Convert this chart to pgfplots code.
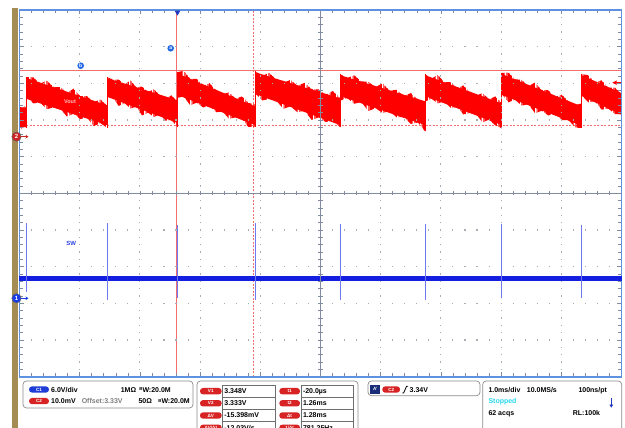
\documentclass[border=0pt]{standalone}
\usepackage{pgfplots}
\pgfplotsset{compat=1.18}
\usepackage{fontspec}
\setmainfont{Liberation Sans}
\usetikzlibrary{arrows.meta,patterns.meta}
\definecolor{frameblue}{RGB}{95,145,225}
\definecolor{tickgray}{RGB}{130,140,160}
\definecolor{dotgray}{RGB}{170,172,182}
\definecolor{cursred}{RGB}{242,110,110}
\definecolor{trace2}{RGB}{255,0,0}
\definecolor{trace1}{RGB}{20,30,225}
\definecolor{spikeblue}{RGB}{110,120,240}
\definecolor{brownstrip}{RGB}{165,140,85}
\definecolor{pillred}{RGB}{215,35,35}
\definecolor{pillblue}{RGB}{30,60,215}
\definecolor{navy}{RGB}{25,45,120}
\definecolor{trigblue}{RGB}{30,55,190}
\definecolor{stopcyan}{RGB}{40,215,240}
\definecolor{boxgray}{RGB}{140,140,140}
\definecolor{cellgray}{RGB}{110,110,110}
\definecolor{mkred}{RGB}{205,35,35}
\definecolor{mkblue}{RGB}{25,60,230}
\definecolor{abblue}{RGB}{35,105,230}
\definecolor{swblue}{RGB}{50,70,225}
\begin{document}
\begin{tikzpicture}
\path[use as bounding box] (0,0) rectangle (625pt,428pt);
\fill[white] (0,0) rectangle (625pt,428pt);
\begin{scope}[x=1pt,y=-1pt,yshift=428pt]
\fill[brownstrip] (12,8) rectangle (18,428);
\end{scope}

% ---------- Channel 2 (Vout) axis, y in volts (10 mV/div, offset 3.33 V) ----------
\begin{axis}[
  at={(19.5pt,51.3pt)}, anchor=south west,
  width=602pt, height=366.7pt, scale only axis,
  xmin=-2.62, xmax=7.38, ymin=3.26457, ymax=3.36457,
  xtick={-2.62,-1.62,-0.62,0.38,1.38,2.38,3.38,4.38,5.38,6.38,7.38},
  ytick={3.26457,3.27457,3.28457,3.29457,3.30457,3.31457,3.32457,3.33457,3.34457,3.35457,3.36457},
  xticklabels={}, yticklabels={},
  minor x tick num=4, minor y tick num=4,
  tick align=inside, major tick length=4.5pt, minor tick length=3.2pt,
  tick style={tickgray, line width=0.6pt},
  grid=major,
  major x grid style={dotgray, line width=1.1pt, dash pattern=on 1.1pt off 6.233pt, dash phase=0.55pt},
  major y grid style={dotgray, line width=1.1pt, dash pattern=on 1.1pt off 10.94pt, dash phase=0.55pt},
  axis line style={frameblue, line width=1.8pt},
  axis on top, clip=false,
]
% cursors
\addplot[cursred, line width=0.8pt] coordinates {(-0.02,3.26457) (-0.02,3.36457)};
\addplot[cursred, line width=0.8pt, dash pattern=on 2pt off 1.5pt] coordinates {(1.26,3.26457) (1.26,3.36457)};
\addplot[cursred, line width=0.8pt] coordinates {(-2.62,3.348) (7.38,3.348)};
\addplot[cursred, line width=0.8pt, dash pattern=on 2pt off 1.5pt] coordinates {(-2.62,3.333) (7.38,3.333)};
% Vout ripple: noisy outer envelope (fringe) of each ramp
\pgfplotsset{fringe/.style={draw=none, pattern={Lines[angle=90,distance=1.15pt,line width=0.75pt]}, pattern color=trace2},
             core/.style={fill=trace2, draw=none},
             jump/.style={trace2, line width=0.7pt}}
\addplot[fringe] coordinates {(-2.62,3.3381) (-2.58,3.3373) (-2.54,3.3384) (-2.50,3.3376) (-2.50,3.3324) (-2.54,3.3329) (-2.58,3.3321) (-2.62,3.3327)};
\addplot[fringe] coordinates {(-2.500,3.3324)
 (-2.500,3.3463) (-2.389,3.3462) (-2.278,3.3445) (-2.166,3.3453) (-2.055,3.3436) (-1.944,3.3435) (-1.833,3.3420) (-1.722,3.3431) (-1.611,3.3411) (-1.500,3.3411) (-1.388,3.3394) (-1.277,3.3402) (-1.166,3.3385)
 (-1.166,3.3325) (-1.277,3.3337) (-1.388,3.3329) (-1.500,3.3353) (-1.611,3.3348) (-1.722,3.3363) (-1.833,3.3355) (-1.944,3.3377) (-2.055,3.3380) (-2.166,3.3375) (-2.278,3.3394) (-2.389,3.3391) (-2.500,3.3408)};
\addplot[fringe] coordinates {(-1.166,3.3325)
 (-1.166,3.3463) (-1.069,3.3456) (-0.972,3.3456) (-0.874,3.3442) (-0.777,3.3454) (-0.680,3.3435) (-0.583,3.3437) (-0.486,3.3421) (-0.389,3.3430) (-0.291,3.3414) (-0.194,3.3405) (-0.097,3.3413) (0.000,3.3398)
 (0.000,3.3327) (-0.097,3.3346) (-0.194,3.3344) (-0.291,3.3361) (-0.389,3.3354) (-0.486,3.3366) (-0.583,3.3358) (-0.680,3.3382) (-0.777,3.3377) (-0.874,3.3392) (-0.972,3.3384) (-1.069,3.3406) (-1.166,3.3409)};
\addplot[fringe] coordinates {(0.000,3.3327)
 (0.000,3.3476) (0.108,3.3480) (0.215,3.3458) (0.323,3.3458) (0.431,3.3439) (0.538,3.3446) (0.646,3.3427) (0.754,3.3416) (0.861,3.3421) (0.969,3.3404) (1.077,3.3410) (1.184,3.3392) (1.292,3.3389)
 (1.292,3.3327) (1.184,3.3326) (1.077,3.3349) (0.969,3.3353) (0.861,3.3349) (0.754,3.3369) (0.646,3.3367) (0.538,3.3385) (0.431,3.3380) (0.323,3.3393) (0.215,3.3386) (0.108,3.3410) (0.000,3.3406)};
\addplot[fringe] coordinates {(1.292,3.3327)
 (1.292,3.3479) (1.410,3.3466) (1.527,3.3474) (1.645,3.3457) (1.763,3.3447) (1.880,3.3455) (1.998,3.3439) (2.116,3.3447) (2.233,3.3430) (2.351,3.3429) (2.469,3.3414) (2.586,3.3425) (2.704,3.3405)
 (2.704,3.3326) (2.586,3.3345) (2.469,3.3340) (2.351,3.3353) (2.233,3.3346) (2.116,3.3371) (1.998,3.3367) (1.880,3.3383) (1.763,3.3376) (1.645,3.3399) (1.527,3.3403) (1.410,3.3399) (1.292,3.3419)};
\addplot[fringe] coordinates {(2.704,3.3326)
 (2.704,3.3471) (2.822,3.3460) (2.939,3.3468) (3.057,3.3451) (3.175,3.3450) (3.292,3.3435) (3.410,3.3446) (3.528,3.3426) (3.645,3.3428) (3.763,3.3411) (3.881,3.3419) (3.998,3.3402) (4.116,3.3392)
 (4.116,3.3315) (3.998,3.3339) (3.881,3.3335) (3.763,3.3354) (3.645,3.3353) (3.528,3.3370) (3.410,3.3365) (3.292,3.3378) (3.175,3.3370) (3.057,3.3395) (2.939,3.3390) (2.822,3.3406) (2.704,3.3398)};
\addplot[fringe] coordinates {(4.116,3.3315)
 (4.116,3.3471) (4.222,3.3458) (4.328,3.3469) (4.435,3.3449) (4.541,3.3449) (4.647,3.3432) (4.753,3.3440) (4.859,3.3422) (4.965,3.3412) (5.072,3.3419) (5.178,3.3402) (5.284,3.3410) (5.390,3.3392)
 (5.390,3.3323) (5.284,3.3331) (5.178,3.3347) (5.072,3.3339) (4.965,3.3362) (4.859,3.3365) (4.753,3.3361) (4.647,3.3381) (4.541,3.3379) (4.435,3.3397) (4.328,3.3391) (4.222,3.3404) (4.116,3.3396)};
\addplot[fringe] coordinates {(5.390,3.3323)
 (5.390,3.3474) (5.501,3.3475) (5.611,3.3457) (5.722,3.3455) (5.833,3.3438) (5.944,3.3448) (6.055,3.3427) (6.165,3.3427) (6.276,3.3408) (6.387,3.3415) (6.498,3.3397) (6.608,3.3386) (6.719,3.3391)
 (6.719,3.3323) (6.608,3.3326) (6.498,3.3346) (6.387,3.3345) (6.276,3.3363) (6.165,3.3358) (6.055,3.3371) (5.944,3.3364) (5.833,3.3389) (5.722,3.3385) (5.611,3.3401) (5.501,3.3394) (5.390,3.3417)};
\addplot[fringe] coordinates {(6.719,3.3323)
 (6.719,3.3471) (6.829,3.3468) (6.939,3.3448) (7.050,3.3454) (7.160,3.3434) (7.270,3.3434) (7.380,3.3417)
 (7.380,3.3361) (7.270,3.3362) (7.160,3.3377) (7.050,3.3374) (6.939,3.3397) (6.829,3.3394) (6.719,3.3413)};
% Vout ripple: dense core of each ramp
\addplot[core] coordinates {(-2.62,3.3381) (-2.50,3.3379) (-2.50,3.3326) (-2.62,3.3327)};
\addplot[core] coordinates {(-2.500,3.3460) (-1.166,3.3386) (-1.166,3.3332) (-2.500,3.3403)};
\addplot[core] coordinates {(-1.166,3.3460) (0.000,3.3400) (0.000,3.3338) (-1.166,3.3409)};
\addplot[core] coordinates {(0.000,3.3473) (1.292,3.3383) (1.292,3.3332) (0.000,3.3414)};
\addplot[core] coordinates {(1.292,3.3476) (2.704,3.3405) (2.704,3.3332) (1.292,3.3417)};
\addplot[core] coordinates {(2.704,3.3468) (4.116,3.3397) (4.116,3.3332) (2.704,3.3411)};
\addplot[core] coordinates {(4.116,3.3468) (5.390,3.3391) (5.390,3.3332) (4.116,3.3411)};
\addplot[core] coordinates {(5.390,3.3471) (6.719,3.3383) (6.719,3.3330) (5.390,3.3414)};
\addplot[core] coordinates {(6.719,3.3468) (7.380,3.3419) (7.380,3.3360) (6.719,3.3411)};
% rising edges
\addplot[jump] coordinates {(-2.500,3.3324) (-2.500,3.3463)};
\addplot[jump] coordinates {(-1.166,3.3325) (-1.166,3.3463)};
\addplot[jump] coordinates {(0.000,3.3327) (0.000,3.3476)};
\addplot[jump] coordinates {(1.292,3.3327) (1.292,3.3479)};
\addplot[jump] coordinates {(2.704,3.3326) (2.704,3.3471)};
\addplot[jump] coordinates {(4.116,3.3315) (4.116,3.3471)};
\addplot[jump] coordinates {(5.390,3.3323) (5.390,3.3474)};
\addplot[jump] coordinates {(6.719,3.3323) (6.719,3.3471)};
\node[text=red!28!white, font=\fontsize{5.5}{6}\selectfont\bfseries, inner sep=0pt] at (axis cs:-1.781,3.3395) {Vout};
\end{axis}

% ---------- Channel 1 (SW) axis, y in volts, 6 V/div ----------
\begin{axis}[
  at={(19.5pt,51.3pt)}, anchor=south west,
  width=602pt, height=366.7pt, scale only axis,
  xmin=-2.62, xmax=7.38, ymin=-12.822, ymax=47.178,
  hide axis, clip=false,
]
\addplot[trace1, line width=4.3pt] coordinates {(-2.62,3.24) (7.38,3.24)};
\pgfplotsset{spk/.style={spikeblue, line width=0.9pt}}
\addplot[spk] coordinates {(-2.500,12.27) (-2.500,1.0)};
\addplot[spk] coordinates {(-1.166,12.27) (-1.166,-0.28)};
\addplot[spk] coordinates {(0.008,11.99) (0.008,0.0)};
\addplot[spk] coordinates {(1.292,12.27) (1.292,-0.28)};
\addplot[spk] coordinates {(2.704,12.20) (2.704,-0.28)};
\addplot[spk] coordinates {(4.116,12.20) (4.116,-0.28)};
\addplot[spk] coordinates {(5.390,12.10) (5.390,0.0)};
\addplot[spk] coordinates {(6.719,11.99) (6.719,0.0)};
\end{axis}

\begin{scope}[x=1pt,y=-1pt,yshift=428pt]
% centre cross with ticks
\draw[tickgray, line width=0.8pt] (19.5,193.35) -- (621.5,193.35);
\draw[tickgray, line width=0.8pt] (320.5,10) -- (320.5,376.7);
\foreach \i in {1,...,49} \draw[tickgray, line width=0.6pt] ({19.5+\i*12.04},191.2) -- ({19.5+\i*12.04},195.5);
\foreach \j in {1,...,49} \draw[tickgray, line width=0.6pt] (318.2,{10+\j*7.334}) -- (322.8,{10+\j*7.334});
% trigger position marker
\fill[trigblue] (174.6,10.6) -- (180.4,10.6) -- (177.5,15.6) -- cycle;
% cursor labels
\fill[abblue] (170.7,48.3) circle (3.3pt);
\node[text=white, font=\fontsize{5}{5}\selectfont\bfseries, inner sep=0pt] at (170.7,48.1) {a};
\fill[abblue] (80.7,65.7) circle (3.3pt);
\node[text=white, font=\fontsize{5}{5}\selectfont\bfseries, inner sep=0pt] at (80.7,65.5) {b};
\node[text=swblue, font=\fontsize{6}{6}\selectfont\bfseries, inner sep=0pt] at (71.3,243.3) {SW};
% trigger level arrow
\draw[red, line width=0.8pt] (615.5,82.7) -- (621,82.7);
\fill[red] (612.3,82.7) -- (616.5,80.5) -- (616.5,84.9) -- cycle;
% channel reference markers
\draw[mkred, line width=0.9pt, -{Stealth[length=3pt,width=3.6pt]}] (21.3,136.7) -- (28.5,136.7);
\draw[fill=mkred, draw=black!60, line width=0.5pt] (16.5,136.7) circle (4.7pt);
\node[text=white, font=\fontsize{6}{6}\selectfont\bfseries, inner sep=0pt] at (16.5,136.7) {2};
\draw[mkblue, line width=0.9pt, -{Stealth[length=3pt,width=3.6pt]}] (21.3,298.3) -- (28.5,298.3);
\draw[fill=mkblue, draw=black!60, line width=0.5pt] (16.5,298.3) circle (4.7pt);
\node[text=white, font=\fontsize{6}{6}\selectfont\bfseries, inner sep=0pt] at (16.5,298.3) {1};

% ---------- bottom information panel ----------
\tikzset{
  t7/.style={font=\fontsize{7}{8}\selectfont\bfseries, inner sep=0pt, anchor=base west},
  pl/.style={font=\fontsize{4.6}{5}\selectfont\bfseries, text=white, inner sep=0pt},
  bx/.style={draw=boxgray, line width=0.7pt, rounded corners=3.5pt},
  cell/.style={draw=cellgray, line width=0.6pt},
}
\draw[bx] (23,381) rectangle (193,408);
\draw[bx] (197,381) rectangle (358,440);
\draw[bx] (368,381) rectangle (480,395.7);
\draw[bx] (482.7,381) rectangle (621.7,440);
% box 1
\fill[pillblue, rounded corners=3pt] (29,386.4) rectangle (49,392.6);
\node[pl] at (39,389.5) {C1};
\node[t7] at (51,392.1) {6.0V/div};
\node[t7] at (120.6,392.1) {1MΩ};
\node[t7] at (139.2,392.1) {\raisebox{1.6pt}{\fontsize{4.3}{4}\selectfont B}W:20.0M};
\fill[pillred, rounded corners=3pt] (29,398) rectangle (49,404.2);
\node[pl] at (39,401.1) {C2};
\node[t7] at (51,403.7) {10.0mV};
\node[t7, text=black!50] at (81.6,403.7) {Offset:3.33V};
\node[t7] at (138.3,403.7) {50Ω};
\node[t7] at (158.2,403.7) {\raisebox{1.6pt}{\fontsize{4.3}{4}\selectfont B}W:20.0M};
% box 2 (cursor readouts)
\foreach \ya/\yb in {385/397.3, 397.3/409.3, 409.3/421.7, 421.7/434} {
  \draw[cell] (222.7,\ya) rectangle (275,\yb);
  \draw[cell] (301.3,\ya) rectangle (353.3,\yb);
}
\foreach \yc in {391.2, 403.3, 415.5, 427.8} {
  \fill[pillred, rounded corners=3pt] (200,\yc-3.2) rectangle (221.7,\yc+3.2);
  \fill[pillred, rounded corners=3pt] (279.3,\yc-3.2) rectangle (300,\yc+3.2);
}
\node[pl] at (210.8,391.2) {V1};
\node[pl] at (210.8,403.3) {V2};
\node[pl] at (210.8,415.5) {ΔV};
\node[pl] at (210.8,427.8) {ΔV/Δt};
\node[pl] at (289.6,391.2) {t1};
\node[pl] at (289.6,403.3) {t2};
\node[pl] at (289.6,415.5) {Δt};
\node[pl] at (289.6,427.8) {1/Δt};
\node[t7] at (224.2,393.6) {3.348V};
\node[t7] at (224.2,405.7) {3.333V};
\node[t7] at (224.2,417.9) {-15.398mV};
\node[t7] at (224.2,430.2) {-12.03V/s};
\node[t7] at (302.8,393.6) {-20.0µs};
\node[t7] at (302.8,405.7) {1.26ms};
\node[t7] at (302.8,417.9) {1.28ms};
\node[t7] at (302.8,430.2) {781.25Hz};
% box 3 (trigger)
\fill[navy] (370.3,385) rectangle (380.3,393.8);
\node[pl] at (375.3,389.4) {A'};
\fill[pillred, rounded corners=3pt] (382.3,386.3) rectangle (400,392.7);
\node[pl] at (391.2,389.5) {C2};
\draw[black, line width=0.8pt] (402.3,393) -- (403.6,393) -- (406.6,386.2) -- (408,386.2);
\node[t7] at (409.5,392.1) {3.34V};
% box 4 (timebase)
\node[t7] at (488.3,392.3) {1.0ms/div};
\node[t7] at (526.7,392.3) {10.0MS/s};
\node[t7] at (578.3,392.3) {100ns/pt};
\node[t7, text=stopcyan] at (488.3,403.6) {Stopped};
\draw[trigblue, line width=1.6pt, -{Latex[length=3.2pt,width=4.2pt]}] (611.3,398.3) -- (611.3,407.8);
\node[t7] at (488.3,415.9) {62 acqs};
\node[t7] at (572.7,415.9) {RL:100k};
\end{scope}
\end{tikzpicture}
\end{document}
